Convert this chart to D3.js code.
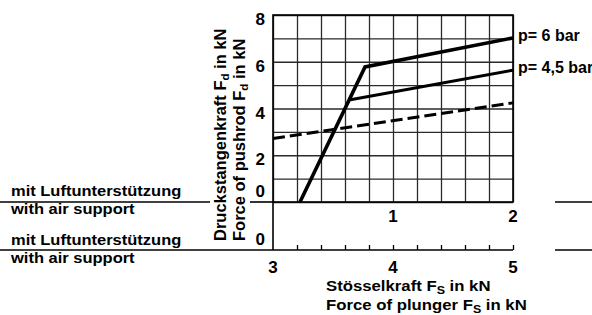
<!DOCTYPE html>
<html>
<head>
<meta charset="utf-8">
<script src="https://cdn.jsdelivr.net/npm/d3@7"></script>
<style>
  body { margin: 0; background: #fff; }
  svg { display: block; }
  text { font-family: "Liberation Sans", Arial, sans-serif; font-weight: bold; fill: #000; }
</style>
</head>
<body>
<svg id="chart" width="592" height="315"></svg>
<script>
// values
const plungerTicks = [3, 4, 5];          // lower axis, Fs in kN
const upperTicks = [1, 2];               // upper x labels (with air support)
const pushrodTicks = [2, 4, 6, 8];       // Fd in kN
const gridX = d3.range(3, 5.001, 0.2);
const gridY = d3.range(0, 8.001, 1);

const p6 = [[3.225, 0], [3.767, 5.78], [5, 7.02]];
const p45 = [[3.634, 4.36], [5, 5.64]];
const dashedLine = [[3, 2.72], [5, 4.24]];
const seriesNames = ["p= 6 bar", "p= 4,5 bar"];

const leftLabels = ["mit Luftunterstützung", "with air support"];

const svg = d3.select("#chart");

const plotLeft = 273, plotRight = 513, plotTop = 15, plotMid = 202, plotBottom = 250;

const x = d3.scaleLinear().domain([3, 5]).range([plotLeft, plotRight]);
const xTop = d3.scaleLinear().domain([0, 2]).range([plotLeft, plotRight]);
const y = d3.scaleLinear().domain([0, 8]).range([plotMid, plotTop]);

// grid
let grid = svg.append("g").attr("id", "grid");
grid.append("g")
  .attr("transform", `translate(0,${plotMid})`)
  .call(d3.axisBottom(x).tickValues(gridX).tickSize(-(plotMid - plotTop)).tickFormat(""))
  .call(g => g.select(".domain").remove());
grid.append("g")
  .attr("transform", `translate(${plotLeft},0)`)
  .call(d3.axisLeft(y).tickValues(gridY).tickSize(-(plotRight - plotLeft)).tickFormat(""))
  .call(g => g.select(".domain").remove());
grid.selectAll("line").attr("stroke", "#2a2a2a").attr("stroke-width", 1.3);

grid.append("rect")
  .attr("x", plotLeft).attr("y", plotTop)
  .attr("width", plotRight - plotLeft).attr("height", plotMid - plotTop)
  .attr("fill", "none").attr("stroke", "#000").attr("stroke-width", 1.6);

// lower axis with small ticks
svg.append("g")
  .attr("transform", `translate(0,${plotBottom})`)
  .call(d3.axisBottom(x).tickValues(gridX.slice(1)).tickSize(-5).tickFormat(""))
  .call(g => g.select(".domain").remove())
  .selectAll("line").attr("stroke", "#000").attr("stroke-width", 1.3);

const hline = (x1, x2, yy) => {
  svg.append("line")
    .attr("x1", x1).attr("x2", x2).attr("y1", yy).attr("y2", yy)
    .attr("stroke", "#000").attr("stroke-width", 1.6);
};
hline(0, 210, plotMid);
hline(250, plotLeft, plotMid);
hline(555, 592, plotMid);
hline(0, plotRight, plotBottom);
hline(555, 592, plotBottom);
svg.append("line")
  .attr("x1", plotLeft).attr("x2", plotLeft).attr("y1", plotMid).attr("y2", plotBottom)
  .attr("stroke", "#000").attr("stroke-width", 1.6);

// tick labels
svg.selectAll(".ylab").data(pushrodTicks).join("text")
  .attr("x", 265).attr("y", d => y(d) + 10)
  .attr("text-anchor", "end").attr("font-size", 17)
  .text(d => d);
svg.append("text").attr("x", 265).attr("y", 197)
  .attr("text-anchor", "end").attr("font-size", 17).text("0");
svg.append("text").attr("x", 265).attr("y", 245)
  .attr("text-anchor", "end").attr("font-size", 17).text("0");

svg.selectAll(".toplab").data(upperTicks).join("text")
  .attr("x", d => xTop(d)).attr("y", 222)
  .attr("text-anchor", "middle").attr("font-size", 17)
  .text(d => d);

svg.selectAll(".xlab").data(plungerTicks).join("text")
  .attr("x", d => x(d)).attr("y", 273)
  .attr("text-anchor", "middle").attr("font-size", 17)
  .text(d => d);

// axis titles with subscripts
const withSub = (sel, pre, sub, post, dy) => {
  sel.append("tspan").text(pre);
  sel.append("tspan").attr("font-size", 11.5).attr("dy", dy).text(sub);
  sel.append("tspan").attr("dy", -dy).text(post);
};

withSub(svg.append("text").attr("transform", "translate(326,291) scale(1.08,1)").attr("font-size", 15.5),
  "Stösselkraft F", "S", " in kN", 2.5);
withSub(svg.append("text").attr("transform", "translate(326,310) scale(1.08,1)").attr("font-size", 15.5),
  "Force of plunger F", "S", " in kN", 2.5);

withSub(svg.append("text").attr("transform", "translate(226,241) rotate(-90)").attr("font-size", 16.5),
  "Druckstangenkraft F", "d", " in kN", 3);
withSub(svg.append("text").attr("transform", "translate(245,241) rotate(-90)").attr("font-size", 16.5),
  "Force of pushrod F", "d", " in kN", 3);

// left side labels (wide, short lettering)
[[196, 214], [245, 263]].forEach(([y1, y2]) => {
  svg.append("text").attr("transform", `translate(11,${y1}) scale(1.1,1)`)
    .attr("font-size", 15).text(leftLabels[0]);
  svg.append("text").attr("transform", `translate(11,${y2}) scale(1.1,1)`)
    .attr("font-size", 15).text(leftLabels[1]);
});

// curves
const line = d3.line().x(d => x(d[0])).y(d => y(d[1]));
svg.append("path").datum(dashedLine).attr("d", line)
  .attr("fill", "none").attr("stroke", "#000").attr("stroke-width", 3)
  .attr("stroke-dasharray", "12,5");
svg.append("path").datum(p45).attr("d", line)
  .attr("fill", "none").attr("stroke", "#000").attr("stroke-width", 3);
svg.append("path").datum(p6).attr("d", line)
  .attr("fill", "none").attr("stroke", "#000").attr("stroke-width", 3.6)
  .attr("stroke-linejoin", "miter");

// series labels
[p6, p45].forEach((s, i) => {
  const last = s[s.length - 1];
  svg.append("text")
    .attr("x", x(last[0]) + 5).attr("y", y(last[1]) + 3)
    .attr("font-size", 16)
    .text(seriesNames[i]);
});
</script>
</body>
</html>
